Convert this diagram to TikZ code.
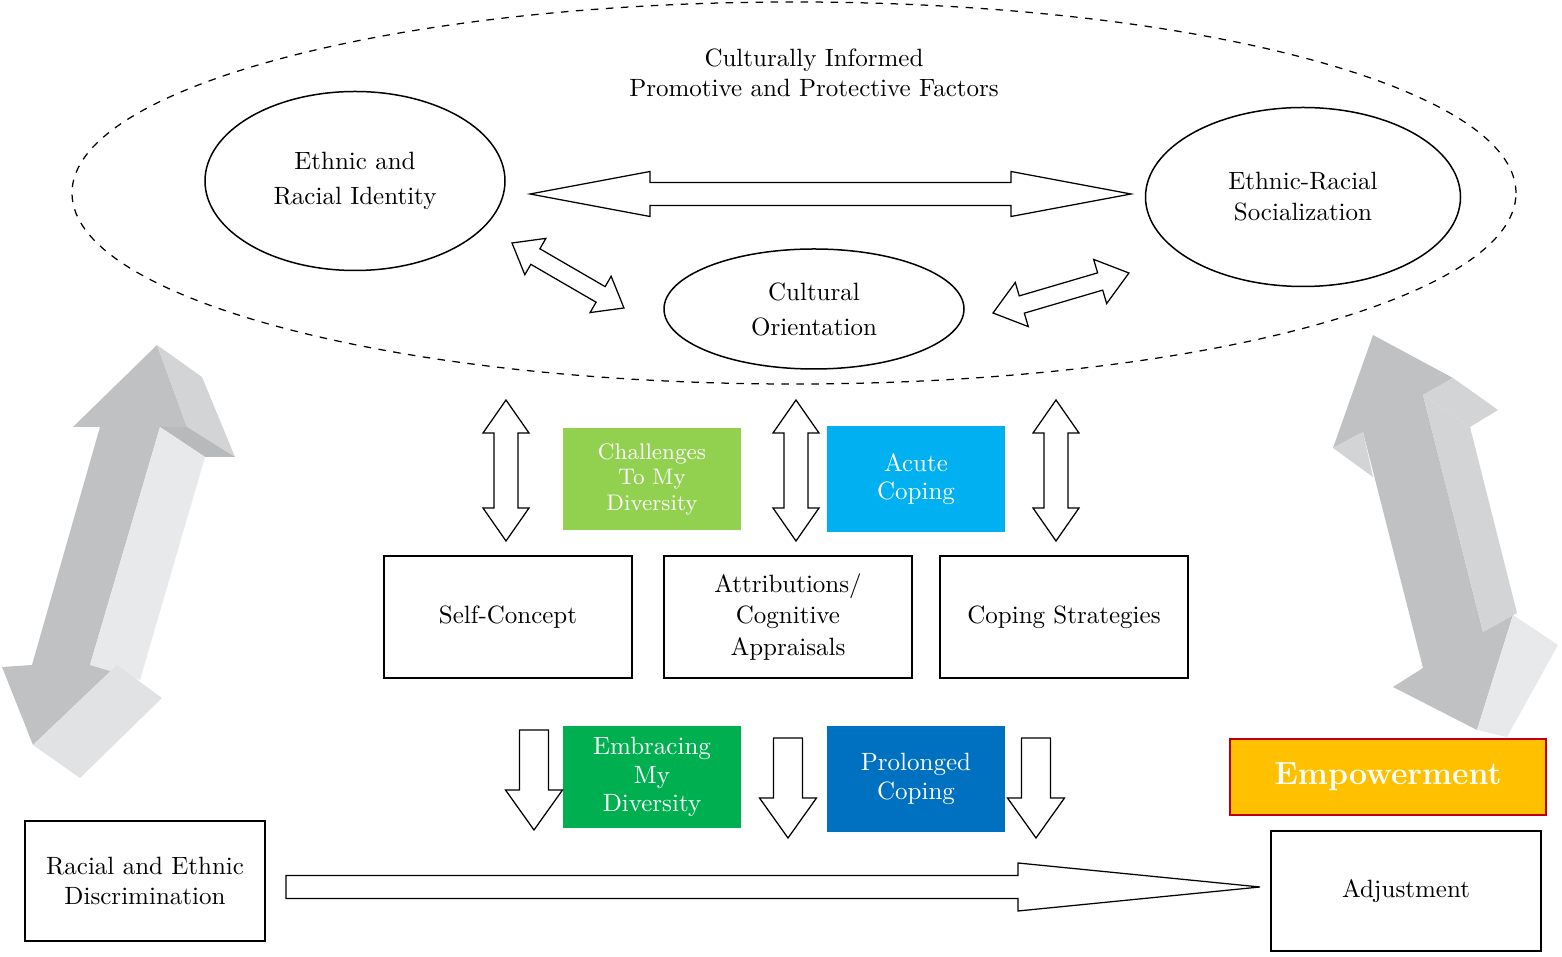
\documentclass[tikz,border=0pt]{standalone}
\usepackage{tikz}
\usetikzlibrary{shapes.geometric, calc}

\definecolor{challgreen}{HTML}{92D050}
\definecolor{embrgreen}{HTML}{00B050}
\definecolor{acuteblue}{HTML}{00B0F0}
\definecolor{prolblue}{HTML}{0070C0}
\definecolor{empamber}{HTML}{FFC000}
\definecolor{empred}{HTML}{C00000}
\definecolor{grayfront}{HTML}{C0C1C3}
\definecolor{grayside}{HTML}{D3D4D6}
\definecolor{grayunder}{HTML}{B8B9BB}
\definecolor{graylight}{HTML}{E8E9EA}

\tikzset{
  oval/.style={ellipse, draw, line width=0.6pt, align=center, inner sep=0pt, font=\fontsize{10}{14}\selectfont},
  plainbox/.style={rectangle, draw, line width=0.9pt, align=center, inner sep=0pt, font=\fontsize{10}{12.6}\selectfont},
  colorbox/.style={rectangle, fill=#1, text=white, align=center, inner sep=0pt, minimum width=71.2pt, font=\fontsize{10}{11.4}\selectfont},
  hollow/.style={draw, fill=white, line width=0.5pt, line join=miter},
}

% block arrows: from, to, shaft half width, head half width, head length (pt)
\newcommand{\twoheadarrow}[5]{%
  \draw[hollow] let \p1=($(#2)-(#1)$), \n1={atan2(\y1,\x1)}, \n2={veclen(\x1,\y1)} in
    [shift={(#1)}, rotate=\n1]
    (0pt,0pt) -- (#5pt,#4pt) -- (#5pt,#3pt) -- ({\n2-#5pt},#3pt) -- ({\n2-#5pt},#4pt)
    -- ({\n2+0pt},0pt) -- ({\n2-#5pt},-#4pt) -- ({\n2-#5pt},-#3pt) -- (#5pt,-#3pt) -- (#5pt,-#4pt) -- cycle;}
\newcommand{\oneheadarrow}[5]{%
  \draw[hollow] let \p1=($(#2)-(#1)$), \n1={atan2(\y1,\x1)}, \n2={veclen(\x1,\y1)} in
    [shift={(#1)}, rotate=\n1]
    (0pt,#3pt) -- ({\n2-#5pt},#3pt) -- ({\n2-#5pt},#4pt) -- ({\n2+0pt},0pt)
    -- ({\n2-#5pt},-#4pt) -- ({\n2-#5pt},-#3pt) -- (0pt,-#3pt) -- cycle;}

\begin{document}
\begin{tikzpicture}[x=0.4pt, y=-0.4pt]
\useasboundingbox (0,0) rectangle (1562,957);

%left grey 3d arrow
\fill[grayfront] (157,345) -- (73,427) -- (100,427) -- (32,665) -- (2,667) -- (33,745) -- (117,665) -- (90,665) -- (160,427) -- (187,427) -- cycle;
\fill[grayside] (157,345) -- (202,377) -- (235,457) -- (187,427) -- cycle;
\fill[grayunder] (160,427) -- (187,427) -- (235,457) -- (205,457) -- cycle;
\fill[graylight] (160,427) -- (205,457) -- (140,680) -- (90,665) -- cycle;
\fill[graylight!97!black] (117,665) -- (162,698) -- (80,778) -- (33,745) -- cycle;
%right grey 3d arrow
\fill[grayfront] (1373,335) -- (1333,448) -- (1363,432) -- (1423,668) -- (1393,687) -- (1477,730) -- (1513,615) -- (1483,632) -- (1423,395) -- (1453,378) -- cycle;
\fill[grayside] (1453,378) -- (1498,410) -- (1470,427) -- (1423,395) -- cycle;
\fill[grayside] (1423,395) -- (1470,427) -- (1517,613) -- (1483,632) -- cycle;
\fill[graylight] (1513,615) -- (1558,645) -- (1507,737) -- (1477,730) -- cycle;
\fill[grayside] (1333,448) -- (1363,432) -- (1373,477) -- cycle;

%promotive and protective factors
\draw[dashed, line width=0.5pt] (794,193) ellipse [x radius=288.8pt, y radius=76.4pt];
\node[align=center, font=\fontsize{10}{12}\selectfont] (title) at (814,73) {Culturally Informed\\Promotive and Protective Factors};
\node[oval, minimum width=120pt, minimum height=71.6pt] (identity) at (355,181) {Ethnic and\\Racial Identity};
\node[oval, minimum width=126pt, minimum height=71.6pt, font=\fontsize{10}{12.4}\selectfont] (social) at (1303,197) {Ethnic-Racial\\Socialization};
\node[oval, minimum width=120pt, minimum height=48pt] (orient) at (814,309) {Cultural\\Orientation};

%arrow ends
\coordinate (idR) at (530,194);
\coordinate (soL) at (1131,194);
\coordinate (idD) at (512,243);
\coordinate (orL) at (624,308);
\coordinate (orR) at (993,313);
\coordinate (soD) at (1129,273);
\twoheadarrow{idR}{soL}{4.6}{9}{48}
\twoheadarrow{idD}{orL}{3.6}{8.4}{10.8}
\twoheadarrow{orR}{soD}{3.6}{9.2}{12}

%processes
\node[plainbox, minimum width=99.2pt, minimum height=48.8pt] (self) at (508,617) {Self-Concept};
\node[plainbox, minimum width=99.2pt, minimum height=48.8pt] (attrib) at (788,617) {Attributions/\\Cognitive\\Appraisals};
\node[plainbox, minimum width=99.2pt, minimum height=48.8pt] (copestr) at (1064,617) {Coping Strategies};

\node[colorbox=challgreen, minimum height=40.8pt, font=\fontsize{9}{10.2}\selectfont] (challenge) at (652,479) {Challenges\\To My\\Diversity};
\node[colorbox=acuteblue, minimum height=42.4pt] (acute) at (916,479) {Acute\\Coping};
\node[colorbox=embrgreen, minimum height=40.8pt] (embrace) at (652,777) {Embracing\\My\\Diversity};
\node[colorbox=prolblue, minimum height=42.4pt] (prolong) at (916,779) {Prolonged\\Coping};

%vertical arrows
\coordinate (v1a) at (506,400); \coordinate (v1b) at (506,541);
\coordinate (v2a) at (796,400); \coordinate (v2b) at (796,541);
\coordinate (v3a) at (1056,400); \coordinate (v3b) at (1056,541);
\twoheadarrow{v1a}{v1b}{4.8}{9.2}{13.2}
\twoheadarrow{v2a}{v2b}{4.8}{9.2}{13.2}
\twoheadarrow{v3a}{v3b}{4.8}{9.2}{13.2}

\coordinate (d1a) at (534,730); \coordinate (d1b) at (534,830);
\coordinate (d2a) at (788,738); \coordinate (d2b) at (788,838);
\coordinate (d3a) at (1036,738); \coordinate (d3b) at (1036,838);
\oneheadarrow{d1a}{d1b}{5.8}{11.4}{16}
\oneheadarrow{d2a}{d2b}{5.8}{11.4}{16}
\oneheadarrow{d3a}{d3b}{5.8}{11.4}{16}

%outcomes
\node[plainbox, minimum width=96pt, minimum height=48pt, font=\fontsize{10}{12}\selectfont] (discrim) at (145,881) {Racial and Ethnic\\Discrimination};
\node[plainbox, minimum width=108pt, minimum height=48pt] (adjust) at (1406,891) {Adjustment};
\node[rectangle, draw=empred, line width=1pt, fill=empamber, text=white, inner sep=0pt, minimum width=126.4pt, minimum height=30.4pt, font=\fontsize{12.8}{15}\selectfont\bfseries] (empower) at (1388,777) {Empowerment};

\coordinate (diR) at (286,887);
\coordinate (adL) at (1260,887);
\oneheadarrow{diR}{adL}{4.6}{9.6}{96.8}
\end{tikzpicture}
\end{document}
